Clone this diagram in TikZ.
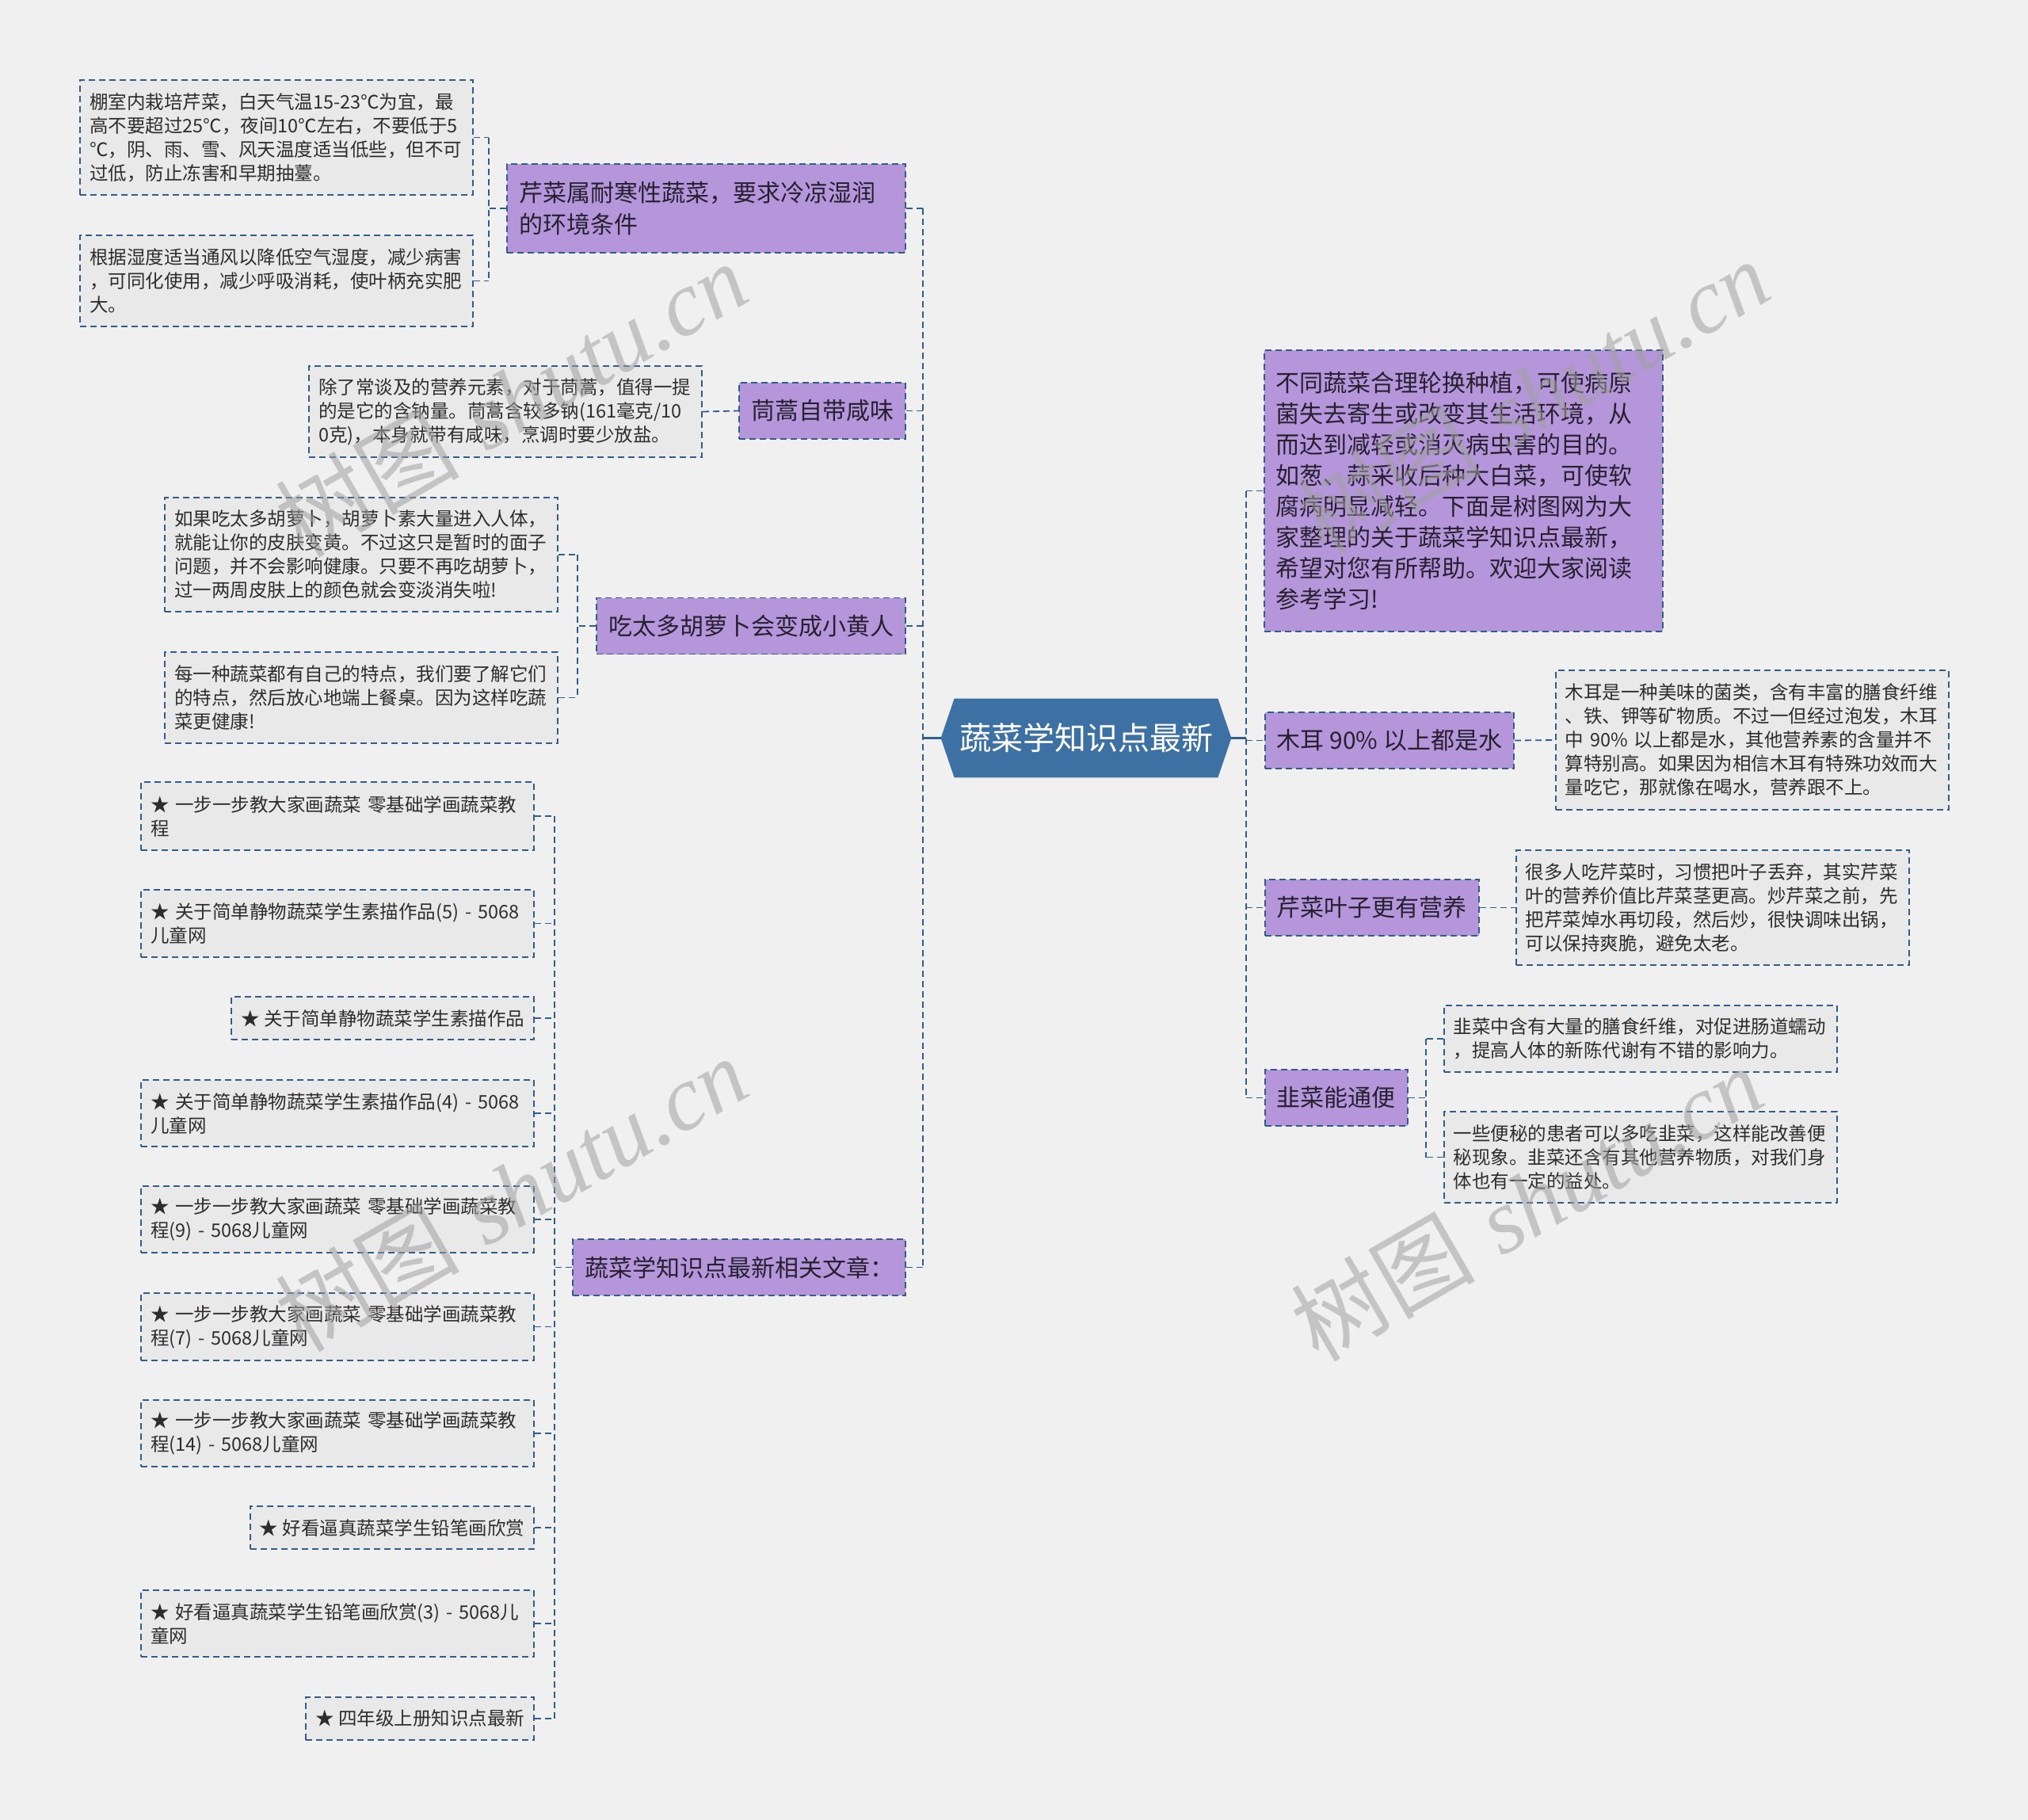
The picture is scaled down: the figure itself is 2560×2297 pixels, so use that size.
\documentclass[tikz,border=0pt]{standalone}
\usepackage{fontspec}
\setmainfont{Noto Sans CJK SC}
\newfontfamily\marklatin{Liberation Serif}
\usetikzlibrary{positioning, calc}
\definecolor{pagegray}{RGB}{240,240,240}
\definecolor{topicpurple}{RGB}{182,150,219}
\definecolor{linkblue}{RGB}{48,93,138}
\definecolor{rootblue}{RGB}{61,113,163}
\definecolor{notegray}{RGB}{233,233,233}
\definecolor{notetext}{RGB}{45,45,45}
\definecolor{topictext}{RGB}{38,32,48}
\definecolor{markgray}{RGB}{160,160,160}
\pgfdeclarelayer{background}
\pgfsetlayers{background,main}

\begin{document}
\begin{tikzpicture}[
    x=0.5pt, y=-0.5pt,
    font=\fontsize{11.75}{15}\selectfont,
    % Node Styles
    rootbox/.style={
        minimum width=183pt,
        minimum height=49.5pt,
        inner sep=0pt,
        text=white,
        font=\fontsize{20}{24}\selectfont
    },
    topicbox/.style={
        rectangle,
        draw=linkblue,
        dash pattern=on 4pt off 2.5pt,
        line width=0.9pt,
        fill=topicpurple,
        text=topictext,
        inner xsep=7.5pt,
        inner ysep=0pt,
        minimum height=35.5pt,
        align=left,
        font=\fontsize{15}{20}\selectfont
    },
    leafbox/.style={
        rectangle,
        draw=linkblue,
        dash pattern=on 4pt off 2.5pt,
        line width=0.9pt,
        fill=notegray,
        text=notetext,
        inner xsep=6pt,
        inner ysep=0pt,
        align=left
    },
    notebox/.style={
        leafbox,
        text width=236pt
    },
    connector/.style={
        draw=linkblue,
        line width=0.9pt,
        dash pattern=on 4pt off 2.5pt
    },
    trunk/.style={
        draw=linkblue,
        line width=1.5pt
    },
    watermark/.style={
        text=markgray,
        opacity=0.55,
        rotate=30,
        inner sep=0pt,
        font=\fontsize{58}{58}\selectfont
    }
]

    % --- Page ---
    \begin{pgfonlayer}{background}
        \fill[pagegray] (0,0) rectangle (2560,2297);
    \end{pgfonlayer}
    \useasboundingbox (0,0) rectangle (2560,2297);

    % --- Root ---
    \node[rootbox] (root) at (1371,931.5) {蔬菜学知识点最新};
    \begin{pgfonlayer}{background}
        \fill[rootblue] (root.west) -- ([xshift=8.5pt]root.north west)
            -- ([xshift=-8.5pt]root.north east) -- (root.east)
            -- ([xshift=-8.5pt]root.south east) -- ([xshift=8.5pt]root.south west) -- cycle;
    \end{pgfonlayer}
    \coordinate (lspine) at (1165,931.5);
    \coordinate (rspine) at (1573,931.5);

    % --- Left topics ---
    \node[topicbox, text width=236.5pt, minimum height=56pt, anchor=east] (n1) at (1144,263) {
        芹菜属耐寒性蔬菜，要求冷凉湿润\\的环境条件
    };
    \node[topicbox, anchor=east] (n2) at (1144,518.5) {茼蒿自带咸味};
    \node[topicbox, anchor=east] (n3) at (1144,790) {吃太多胡萝卜会变成小黄人};
    \node[topicbox, anchor=east] (n4) at (1144,1599.5) {蔬菜学知识点最新相关文章：};

    % --- Right topics ---
    \node[topicbox, text width=236.5pt, minimum height=177.5pt, anchor=west,
          font=\fontsize{15}{19.5}\selectfont] (r0) at (1595,619.5) {
        不同蔬菜合理轮换种植，可使病原\\
        菌失去寄生或改变其生活环境，从\\
        而达到减轻或消灭病虫害的目的。\\
        如葱、蒜采收后种大白菜，可使软\\
        腐病明显减轻。下面是树图网为大\\
        家整理的关于蔬菜学知识点最新，\\
        希望对您有所帮助。欢迎大家阅读\\
        参考学习!
    };
    \node[topicbox, anchor=west] (r1) at (1596,934.5) {木耳 90\% 以上都是水};
    \node[topicbox, anchor=west] (r2) at (1596,1145.5) {芹菜叶子更有营养};
    \node[topicbox, anchor=west] (r3) at (1596,1385.5) {韭菜能通便};

    % --- Notes: celery ---
    \node[notebox, minimum height=72.5pt, anchor=east] (dl1) at (598,173.5) {
        棚室内栽培芹菜，白天气温15-23℃为宜，最\\
        高不要超过25℃，夜间10℃左右，不要低于5\\
        ℃，阴、雨、雪、风天温度适当低些，但不可\\
        过低，防止冻害和早期抽薹。
    };
    \node[notebox, minimum height=57.5pt, anchor=east] (dl2) at (598,354.5) {
        根据湿度适当通风以降低空气湿度，减少病害\\
        ，可同化使用，减少呼吸消耗，使叶柄充实肥\\
        大。
    };

    % --- Notes: tonghao ---
    \node[notebox, minimum height=57.5pt, anchor=east] (dl3) at (887,519.5) {
        除了常谈及的营养元素，对于茼蒿，值得一提\\
        的是它的含钠量。茼蒿含较多钠(161毫克/10\\
        0克)，本身就带有咸味，烹调时要少放盐。
    };

    % --- Notes: carrot ---
    \node[notebox, minimum height=72pt, anchor=east] (dl4) at (705,700) {
        如果吃太多胡萝卜，胡萝卜素大量进入人体，\\
        就能让你的皮肤变黄。不过这只是暂时的面子\\
        问题，并不会影响健康。只要不再吃胡萝卜，\\
        过一两周皮肤上的颜色就会变淡消失啦!
    };
    \node[notebox, minimum height=57.5pt, anchor=east] (dl5) at (705,880.5) {
        每一种蔬菜都有自己的特点，我们要了解它们\\
        的特点，然后放心地端上餐桌。因为这样吃蔬\\
        菜更健康!
    };

    % --- Related articles ---
    \node[notebox, minimum height=43pt, anchor=east] (a1) at (675,1030) {
        ★~一步一步教大家画蔬菜~零基础学画蔬菜教\\程
    };
    \node[notebox, minimum height=42.5pt, anchor=east] (a2) at (675,1165.5) {
        ★~关于简单静物蔬菜学生素描作品(5)~-~5068\\儿童网
    };
    \node[leafbox, minimum height=27pt, anchor=east] (a3) at (675,1285) {★ 关于简单静物蔬菜学生素描作品};
    \node[notebox, minimum height=42pt, anchor=east] (a4) at (675,1405) {
        ★~关于简单静物蔬菜学生素描作品(4)~-~5068\\儿童网
    };
    \node[notebox, minimum height=42pt, anchor=east] (a5) at (675,1539) {
        ★~一步一步教大家画蔬菜~零基础学画蔬菜教\\程(9)~-~5068儿童网
    };
    \node[notebox, minimum height=42.5pt, anchor=east] (a6) at (675,1674.5) {
        ★~一步一步教大家画蔬菜~零基础学画蔬菜教\\程(7)~-~5068儿童网
    };
    \node[notebox, minimum height=42pt, anchor=east] (a7) at (675,1809) {
        ★~一步一步教大家画蔬菜~零基础学画蔬菜教\\程(14)~-~5068儿童网
    };
    \node[leafbox, minimum height=27pt, anchor=east] (a8) at (675,1928) {★ 好看逼真蔬菜学生铅笔画欣赏};
    \node[notebox, minimum height=42pt, anchor=east] (a9) at (675,2049) {
        ★~好看逼真蔬菜学生铅笔画欣赏(3)~-~5068儿\\童网
    };
    \node[leafbox, minimum height=27pt, anchor=east] (a10) at (675,2169) {★ 四年级上册知识点最新};

    % --- Notes: right side ---
    \node[notebox, minimum height=88pt, anchor=west] (d1) at (1963,934) {
        木耳是一种美味的菌类，含有丰富的膳食纤维\\
        、铁、钾等矿物质。不过一但经过泡发，木耳\\
        中~90\%~以上都是水，其他营养素的含量并不\\
        算特别高。如果因为相信木耳有特殊功效而大\\
        量吃它，那就像在喝水，营养跟不上。
    };
    \node[notebox, minimum height=72.5pt, anchor=west] (d2) at (1913,1145.5) {
        很多人吃芹菜时，习惯把叶子丢弃，其实芹菜\\
        叶的营养价值比芹菜茎更高。炒芹菜之前，先\\
        把芹菜焯水再切段，然后炒，很快调味出锅，\\
        可以保持爽脆，避免太老。
    };
    \node[notebox, minimum height=42pt, anchor=west] (d3) at (1822,1311) {
        韭菜中含有大量的膳食纤维，对促进肠道蠕动\\
        ，提高人体的新陈代谢有不错的影响力。
    };
    \node[notebox, minimum height=57.5pt, anchor=west] (d4) at (1822,1460.5) {
        一些便秘的患者可以多吃韭菜，这样能改善便\\
        秘现象。韭菜还含有其他营养物质，对我们身\\
        体也有一定的益处。
    };

    % --- Spines ---
    \draw[trunk] (root.west) -- (lspine);
    \draw[trunk] (root.east) -- (rspine);
    \draw[connector] (lspine |- n1.east) -- (lspine |- n4.east);
    \foreach \t in {n1,n2,n3,n4}
        \draw[connector] (lspine |- \t.east) -- (\t.east);
    \draw[connector] (rspine |- r0.west) -- (rspine |- r3.west);
    \foreach \t in {r0,r1,r2,r3}
        \draw[connector] (rspine |- \t.west) -- (\t.west);

    % --- Brackets ---
    \coordinate (b1) at ($(n1.west)+(-22,0)$);
    \draw[connector] (n1.west) -- (b1);
    \draw[connector] (b1 |- dl1.east) -- (b1 |- dl2.east);
    \foreach \c in {dl1,dl2}
        \draw[connector] (\c.east) -- (b1 |- \c.east);

    \coordinate (b3) at ($(n3.west)+(-23,0)$);
    \draw[connector] (n3.west) -- (b3);
    \draw[connector] (b3 |- dl4.east) -- (b3 |- dl5.east);
    \foreach \c in {dl4,dl5}
        \draw[connector] (\c.east) -- (b3 |- \c.east);

    \coordinate (b4) at ($(n4.west)+(-22,0)$);
    \draw[connector] (n4.west) -- (b4);
    \draw[connector] (b4 |- a1.east) -- (b4 |- a10.east);
    \foreach \c in {a1,a2,a3,a4,a5,a6,a7,a8,a9,a10}
        \draw[connector] (\c.east) -- (b4 |- \c.east);

    \coordinate (b5) at ($(r3.east)+(22,0)$);
    \draw[connector] (r3.east) -- (b5);
    \draw[connector] (b5 |- d3.west) -- (b5 |- d4.west);
    \foreach \c in {d3,d4}
        \draw[connector] (\c.west) -- (b5 |- \c.west);

    % --- Direct links ---
    \draw[connector] (dl3.east) -- (n2.west);
    \draw[connector] (r1.east) -- (d1.west);
    \draw[connector] (r2.east) -- (d2.west);

    % --- Watermarks ---
    \node[watermark] (wm1) at (645,503) {树图\hspace{0.3em}{\marklatin\itshape shutu.cn}};
    \node[watermark] (wm2) at (645,1506) {树图\hspace{0.3em}{\marklatin\itshape shutu.cn}};
    \node[watermark] (wm3) at (1935,500) {树图\hspace{0.3em}{\marklatin\itshape shutu.cn}};
    \node[watermark] (wm4) at (1927,1518) {树图\hspace{0.3em}{\marklatin\itshape shutu.cn}};

\end{tikzpicture}
\end{document}
